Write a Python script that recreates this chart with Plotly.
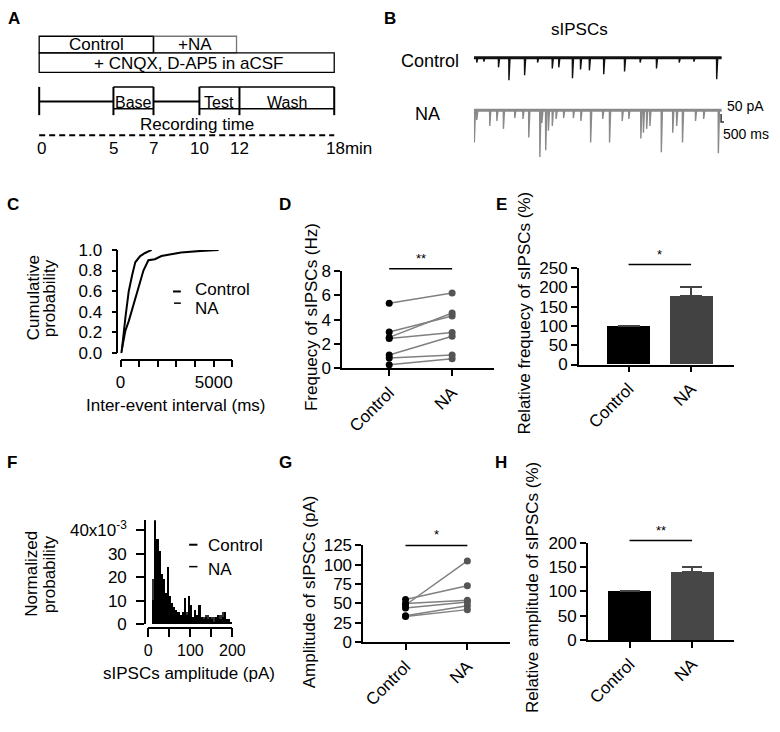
import plotly.graph_objects as go

W, H = 780, 732
FONT = "Liberation Sans, Arial, sans-serif"


def fx(x):
    return x / W


def fy(y):
    return 1 - y / H


# ---------------- data ----------------
# A: protocol schematic (time labels, schematic positions not to scale)
protocol_labels = ["0", "5", "7", "10", "12", "18min"]
protocol_px = [35, 111, 152, 199, 240, 337]

# B: sIPSC traces (event time in ms, amplitude in pA)
ctrl_event_ms = [320, 1170, 2930, 4180, 6060, 7620, 9380, 10160, 11800, 12770,
                 13830, 15550, 18050, 19920, 21880, 24610, 26370, 29100]
ctrl_event_pA = [31, 25, 62, 144, 112, 31, 69, 62, 131, 75,
                 81, 106, 88, 31, 69, 31, 25, 138]
na_event_ms = [30, 320, 1880, 2730, 3520, 4880, 5860, 6560, 7890, 8130,
               8590, 8910, 9380, 9840, 10740, 11910, 12810, 13980, 15430, 16250,
               17770, 18560, 20000, 20310, 20700, 21090, 22460, 23830, 24300, 25000,
               26560, 27540, 29300]
na_event_pA = [206, 62, 100, 69, 119, 50, 56, 175, 300, 81,
               256, 131, 100, 56, 50, 50, 69, 206, 56, 206,
               69, 56, 181, 144, 119, 100, 269, 144, 100, 206,
               69, 56, 275]
trace_end_ms = 29700

# C: cumulative probability of inter-event interval
cum_ctrl_ms = [30, 88, 263, 439, 702, 965, 1228, 1491, 1842, 2193, 2719, 3246, 4298, 5263]
cum_ctrl_p = [0.0, 0.06, 0.22, 0.31, 0.47, 0.63, 0.80, 0.90, 0.91, 0.94, 0.96, 0.975, 0.99, 1.0]
cum_na_ms = [30, 88, 263, 439, 614, 789, 1053, 1316, 1667]
cum_na_p = [0.0, 0.06, 0.35, 0.60, 0.75, 0.88, 0.94, 0.97, 1.0]

# D: frequency (Hz), paired cells
freq_ctrl = [5.35, 3.0, 2.55, 2.45, 1.1, 0.85, 0.3]
freq_na = [6.2, 4.3, 4.55, 2.95, 2.65, 1.1, 0.8]

# E: relative frequency (%)
groups = ["Control", "NA"]
rel_freq_mean = [100, 177.5]
rel_freq_sem = [0, 24.5]

# F: normalized amplitude histogram (x10^-3), 5 pA bins from 10 to 200 pA
amp_bin_left = [10, 15, 20, 25, 30, 35, 40, 45, 50, 55, 60, 65, 70, 75, 80, 85, 90, 95, 100,
                105, 110, 115, 120, 125, 130, 135, 140, 145, 150, 155, 160, 165, 170, 175,
                180, 185, 190, 195]
hist_ctrl = [10, 44, 36, 31, 21, 19, 13, 24, 12, 9, 7, 6, 5, 4, 5, 11, 4, 12, 8,
             3, 6, 4, 8, 3, 2, 3, 2, 3, 2, 1, 3, 4, 2, 3, 5, 2, 2, 1]
hist_na = [19, 20, 18, 14, 17, 12, 10, 8, 7, 5, 4, 4, 3, 3, 4, 4, 5, 3, 4,
           3, 3, 2, 3, 2, 3, 4, 4, 2, 3, 3, 3, 4, 4, 5, 3, 2, 2, 1]

# G: amplitude (pA), paired cells
amp_ctrl = [48, 55, 50, 44, 34, 33]
amp_na = [105, 73, 54, 52, 47, 42]

# H: relative amplitude (%)
rel_amp_mean = [100, 140]
rel_amp_sem = [0, 10]

# ---------------- helpers ----------------
annotations = []
shapes = []


def txt(x, y, s, size=17, xanchor="center", angle=0, bold=False, color="black"):
    annotations.append(dict(
        x=fx(x), y=fy(y), xref="paper", yref="paper", text=("<b>%s</b>" % s) if bold else s,
        showarrow=False, xanchor=xanchor, yanchor="middle", textangle=angle,
        font=dict(family=FONT, size=size, color=color)))


def pline(x0, y0, x1, y1, w=1.5, color="black", dash=None):
    d = dict(color=color, width=w)
    if dash:
        d["dash"] = dash
    shapes.append(dict(type="line", xref="paper", yref="paper",
                       x0=fx(x0), y0=fy(y0), x1=fx(x1), y1=fy(y1), line=d))


def prect(x0, y0, x1, y1, w=1.5, color="black"):
    shapes.append(dict(type="rect", xref="paper", yref="paper",
                       x0=fx(x0), y0=fy(y0), x1=fx(x1), y1=fy(y1),
                       line=dict(color=color, width=w), fillcolor="rgba(0,0,0,0)"))


def sig(xr, ypx, stars):
    # significance bar from category 0 to 1, at a screen height
    shapes.append(dict(type="line", xref=xr, yref="paper", x0=0, x1=1, y0=fy(ypx), y1=fy(ypx),
                       line=dict(color="black", width=1.5)))
    annotations.append(dict(x=0.5, y=fy(ypx - 1), xref=xr, yref="paper", text=stars, showarrow=False,
                            xanchor="center", yanchor="bottom",
                            font=dict(family=FONT, size=13, color="black")))


AX = dict(showline=True, linecolor="black", linewidth=1.5, ticks="outside", ticklen=6,
          tickwidth=1.5, tickcolor="black", showgrid=False, zeroline=False,
          tickfont=dict(family=FONT, size=17, color="black"), fixedrange=True)


def axis(**kw):
    d = dict(AX)
    d.update(kw)
    return d


fig = go.Figure()

# ---------------- Panel A ----------------
prect(35, 28, 152, 45, w=1.3)
prect(152, 28, 237, 45, w=1.3, color="#777777")
pline(152, 28, 152, 45, w=1.3)
prect(35, 45, 337, 65, w=1.3)
txt(93.5, 36.5, "Control", size=17)
txt(194.5, 36.5, "+NA", size=17)
txt(188, 56, "+ CNQX, D-AP5 in aCSF", size=17)
for p in protocol_px:
    pline(p, 80, p, 109, w=2)
pline(protocol_px[0], 95, protocol_px[1], 95, w=2)
pline(protocol_px[2], 95, protocol_px[3], 95, w=2)
for a, b in [(1, 2), (3, 4), (4, 5)]:
    pline(protocol_px[a], 80, protocol_px[b], 80, w=1.5)
    pline(protocol_px[a], 102.5, protocol_px[b], 102.5, w=1.5)
txt(131.5, 95.5, "Base", size=16)
txt(219.5, 95.5, "Test", size=16)
txt(288.5, 95.5, "Wash", size=16)
txt(196.5, 118.5, "Recording time", size=17)
pline(35, 129.5, 337, 129.5, w=2, dash="6px,4px")
for lab, p in zip(protocol_labels, protocol_px):
    if lab.endswith("min"):
        txt(p - 10, 143.5, lab, size=17, xanchor="left")
    else:
        txt(p + (2 if lab == "0" else 0), 143.5, lab, size=17)

# ---------------- Panel B ----------------


def trace_xy(times, amps, base, end):
    xs, ys = [0], [base]
    for t, a in zip(times, amps):
        xs += [t, t + 20, t + 150]
        ys += [base, base - a, base]
    xs.append(end)
    ys.append(base)
    return xs, ys


ctrl_base, na_base = 0, -337.5
cx, cy = trace_xy(ctrl_event_ms, ctrl_event_pA, ctrl_base, trace_end_ms)
nx, ny = trace_xy(na_event_ms, na_event_pA, na_base, trace_end_ms)
fig.add_trace(go.Scatter(x=[0, trace_end_ms], y=[ctrl_base, ctrl_base], mode="lines",
                         line=dict(color="#111111", width=3), xaxis="x7", yaxis="y7", hoverinfo="skip"))
fig.add_trace(go.Scatter(x=cx, y=cy, mode="lines", line=dict(color="#111111", width=1.4),
                         xaxis="x7", yaxis="y7", hoverinfo="skip"))
fig.add_trace(go.Scatter(x=[0, trace_end_ms], y=[na_base, na_base], mode="lines",
                         line=dict(color="#8a8a8a", width=3), xaxis="x7", yaxis="y7", hoverinfo="skip"))
fig.add_trace(go.Scatter(x=nx, y=ny, mode="lines", line=dict(color="#8a8a8a", width=1.4),
                         xaxis="x7", yaxis="y7", hoverinfo="skip"))
# scale bar 50 pA / 500 ms
sb_t, sb_y = 29650, -362
fig.add_trace(go.Scatter(x=[sb_t, sb_t, sb_t + 500], y=[sb_y, sb_y - 50, sb_y - 50], mode="lines",
                         line=dict(color="#333333", width=1.5), xaxis="x7", yaxis="y7", hoverinfo="skip"))
txt(588, 21, "sIPSCs", size=17)
txt(435.5, 53, "Control", size=18)
txt(432.5, 108, "NA", size=18)
txt(737, 99.5, "50 pA", size=14, xanchor="left")
txt(733, 128.5, "500 ms", size=14, xanchor="left")

# ---------------- Panel C ----------------
fig.add_trace(go.Scatter(x=cum_ctrl_ms, y=cum_ctrl_p, mode="lines", line=dict(color="black", width=2),
                         xaxis="x", yaxis="y"))
fig.add_trace(go.Scatter(x=cum_na_ms, y=cum_na_p, mode="lines", line=dict(color="black", width=2),
                         xaxis="x", yaxis="y"))
pline(172, 290, 180, 290, w=2)
pline(173, 302, 180, 302, w=1.5)
txt(192, 288, "Control", size=17, xanchor="left")
txt(192, 307, "NA", size=17, xanchor="left")
txt(28.5, 296, "Cumulative", size=17, angle=-90)
txt(45, 297, "probability", size=17, angle=-90)
txt(175, 407, "Inter-event interval (ms)", size=17)

# ---------------- Panel D ----------------
for c, n in zip(freq_ctrl, freq_na):
    fig.add_trace(go.Scatter(x=[0, 1], y=[c, n], mode="lines", line=dict(color="#808080", width=1.5),
                             xaxis="x2", yaxis="y2"))
fig.add_trace(go.Scatter(x=[0] * len(freq_ctrl), y=freq_ctrl, mode="markers",
                         marker=dict(color="black", size=7), xaxis="x2", yaxis="y2"))
fig.add_trace(go.Scatter(x=[1] * len(freq_na), y=freq_na, mode="markers",
                         marker=dict(color="#555555", size=7), xaxis="x2", yaxis="y2"))
sig("x2", 266.7, "**")
txt(314.5, 316, "Frequecy of sIPSCs (Hz)", size=17, angle=-90)

# ---------------- Panel E ----------------
fig.add_trace(go.Bar(x=[0, 1], y=rel_freq_mean, width=0.69,
                     marker=dict(color=["#000000", "#424242"], line=dict(width=0)),
                     error_y=dict(type="data", array=rel_freq_sem, arrayminus=[0, 0], symmetric=False,
                                  color="#424242", thickness=2, width=11),
                     xaxis="x3", yaxis="y3"))
sig("x3", 262.3, "*")
txt(532, 312, "Relative frequecy of sIPSCs (%)", size=17, angle=-90)

# ---------------- Panel F ----------------
bin_centers = [b + 2.5 for b in amp_bin_left]
fig.add_trace(go.Bar(x=bin_centers, y=hist_na, width=5, marker=dict(color="#333333", line=dict(width=0)),
                     xaxis="x4", yaxis="y4"))
fig.add_trace(go.Bar(x=bin_centers, y=hist_ctrl, width=5, marker=dict(color="#000000", line=dict(width=0)),
                     xaxis="x4", yaxis="y4"))
pline(188.5, 550, 197, 550, w=2)
pline(188.5, 572.5, 197, 572.5, w=1.5)
txt(206, 550.5, "Control", size=17, xanchor="left")
txt(206, 575, "NA", size=17, xanchor="left")
txt(27.5, 580, "Normalized", size=17, angle=-90)
txt(46.5, 580, "probability", size=17, angle=-90)
txt(188, 682, "sIPSCs amplitude (pA)", size=17)

# ---------------- Panel G ----------------
for c, n in zip(amp_ctrl, amp_na):
    fig.add_trace(go.Scatter(x=[0, 1], y=[c, n], mode="lines", line=dict(color="#808080", width=1.5),
                             xaxis="x5", yaxis="y5"))
fig.add_trace(go.Scatter(x=[0] * len(amp_ctrl), y=amp_ctrl, mode="markers",
                         marker=dict(color="black", size=7), xaxis="x5", yaxis="y5"))
fig.add_trace(go.Scatter(x=[1] * len(amp_na), y=amp_na, mode="markers",
                         marker=dict(color="#555555", size=7), xaxis="x5", yaxis="y5"))
sig("x5", 550.7, "*")
txt(312, 598, "Amplitude of sIPSCs (pA)", size=17, angle=-90)

# ---------------- Panel H ----------------
fig.add_trace(go.Bar(x=[0, 1], y=rel_amp_mean, width=0.69,
                     marker=dict(color=["#000000", "#474747"], line=dict(width=0)),
                     error_y=dict(type="data", array=rel_amp_sem, arrayminus=[0, 0], symmetric=False,
                                  color="#474747", thickness=2, width=10),
                     xaxis="x6", yaxis="y6"))
sig("x6", 545.7, "**")
txt(540, 594, "Relative amplitude of sIPSCs (%)", size=17, angle=-90)

# ---------------- panel letters ----------------
for s, x, y in [("A", 9, 10), ("B", 394, 10), ("C", 8, 201), ("D", 287, 201), ("E", 508, 201),
                ("F", 7, 466), ("G", 287, 466), ("H", 508, 466)]:
    txt(x, y, s, size=17, bold=True)

# ---------------- axes ----------------
cat_ticks = dict(tickvals=[0, 1], ticktext=groups, tickangle=-45)
layout_axes = dict(
    # C
    xaxis=axis(domain=[fx(118.3), fx(232.7)], range=[0, 6000], anchor="free", position=fy(360),
               ticklen=7, tickvals=[0, 1000, 2000, 3000, 4000, 5000, 6000],
               ticktext=["0", "", "", "", "", "5000", ""]),
    yaxis=axis(domain=[fy(353.3), fy(247.3)], range=[0, 1], anchor="free", position=fx(115),
               ticklen=5, ticklabelstandoff=6,
               tickvals=[0, 0.2, 0.4, 0.6, 0.8, 1.0],
               ticktext=["0.0", "0.2", "0.4", "0.6", "0.8", "1.0"]),
    # D
    xaxis2=axis(domain=[fx(345), fx(500.7)], range=[-0.75, 1.668], anchor="y2", **cat_ticks),
    yaxis2=axis(domain=[fy(369), fy(269)], range=[0, 8], dtick=2, anchor="x2"),
    # E
    xaxis3=axis(domain=[fx(587.3), fx(746.7)], range=[-0.797, 1.694], anchor="y3", **cat_ticks),
    yaxis3=axis(domain=[fy(365), fy(266)], range=[0, 250], dtick=50, anchor="x3"),
    # F
    xaxis4=axis(domain=[fx(146.7), fx(232.7)], range=[0, 200], anchor="free", position=fy(635),
                ticklen=9, tickfont=dict(family=FONT, size=16, color="black"),
                tickvals=[0, 50, 100, 150, 200], ticktext=["0", "", "100", "", "200"]),
    yaxis4=axis(domain=[fy(631.7), fy(525)], range=[0, 44.1], anchor="free", position=fx(143.3),
                ticklen=8, ticklabelstandoff=6,
                tickvals=[0, 10, 20, 30, 40], ticktext=["0", "10", "20", "30", "40x10<sup>-3</sup>"]),
    # G
    xaxis5=axis(domain=[fx(366.7), fx(516.7)], range=[-0.684, 1.686], anchor="y5", **cat_ticks),
    yaxis5=axis(domain=[fy(650), fy(550.7)], range=[0, 125], dtick=25, anchor="x5"),
    # H
    xaxis6=axis(domain=[fx(596.7), fx(746.7)], range=[-0.666, 1.678], anchor="y6", **cat_ticks),
    yaxis6=axis(domain=[fy(647.7), fy(548.3)], range=[0, 200], dtick=50, anchor="x6"),
    # B
    xaxis7=dict(domain=[fx(480), fx(736)], range=[0, 30000], visible=False, anchor="y7", fixedrange=True),
    yaxis7=dict(domain=[fy(160), fy(30)], range=[-687.5, 125], visible=False, anchor="x7", fixedrange=True),
)

fig.update_layout(
    width=W, height=H, margin=dict(l=0, r=0, t=0, b=0),
    paper_bgcolor="white", plot_bgcolor="rgba(0,0,0,0)",
    showlegend=False, barmode="overlay", bargap=0,
    font=dict(family=FONT, size=17, color="black"),
    annotations=annotations, shapes=shapes,
    **layout_axes,
)

fig.write_html("out.html", config={"displayModeBar": False},
               post_script="document.body.style.margin='0';document.body.style.overflow='hidden';")
